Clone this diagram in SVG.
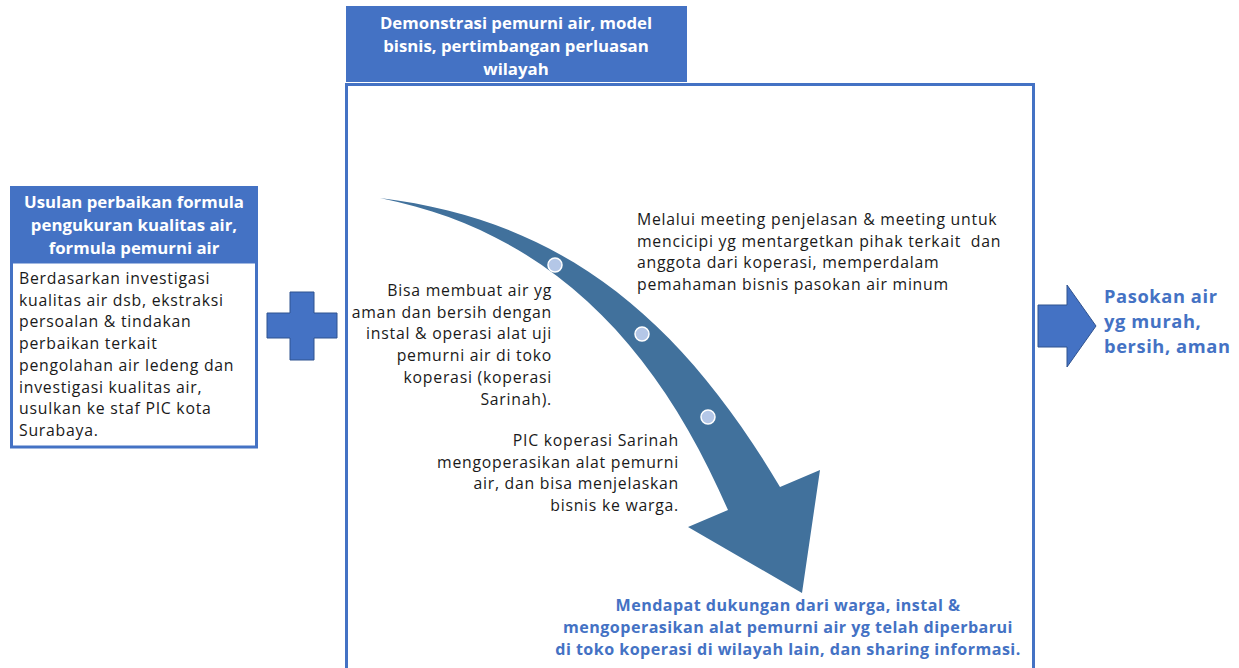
<svg xmlns="http://www.w3.org/2000/svg" width="1239" height="668" viewBox="0 0 1239 668">
<style>
.hdr{fill:#4472C4;}
.box{fill:#FFFFFF;stroke:#4472C4;stroke-width:3;}
.wb{font-family:"Open Sans","Noto Sans",sans-serif;font-weight:bold;font-size:16.8px;fill:#FFFFFF;text-anchor:middle;}
.bd{font-family:"Open Sans","Noto Sans",sans-serif;font-size:15.8px;letter-spacing:0.75px;fill:#1A1A1A;}
.bl{font-family:"Open Sans","Noto Sans",sans-serif;font-weight:bold;fill:#4472C4;}
.shape{fill:#4472C4;stroke:#2F528F;stroke-width:1;}
.dot{fill:#B4C7E7;stroke:#FFFFFF;stroke-width:1.5;}
</style>
<rect width="1239" height="668" fill="#FFFFFF"/>

<g id="main-box">
  <rect class="box" x="346.5" y="84.5" width="687" height="620"/>
</g>

<g id="main-header">
  <rect class="hdr" x="346" y="6" width="341" height="76"/>
  <text class="wb" x="516" y="29">Demonstrasi pemurni air, model</text>
  <text class="wb" x="516" y="52">bisnis, pertimbangan perluasan</text>
  <text class="wb" x="516" y="75">wilayah</text>
</g>

<g id="left-node">
  <rect class="hdr" x="10" y="186" width="248" height="76"/>
  <text class="wb" x="134" y="208">Usulan perbaikan formula</text>
  <text class="wb" x="134" y="231">pengukuran kualitas air,</text>
  <text class="wb" x="134" y="254">formula pemurni air</text>
  <rect class="box" x="11.5" y="262" width="245" height="185"/>
  <text class="bd" x="19" y="284">Berdasarkan investigasi</text>
  <text class="bd" x="19" y="305.7">kualitas air dsb, ekstraksi</text>
  <text class="bd" x="19" y="327.4">persoalan &amp; tindakan</text>
  <text class="bd" x="19" y="349.1">perbaikan terkait</text>
  <text class="bd" x="19" y="370.8">pengolahan air ledeng dan</text>
  <text class="bd" x="19" y="392.5">investigasi kualitas air,</text>
  <text class="bd" x="19" y="414.2">usulkan ke staf PIC kota</text>
  <text class="bd" x="19" y="435.9">Surabaya.</text>
</g>

<g id="plus">
  <path class="shape" d="M290,292 H314 V313 H337 V338 H314 V360 H290 V338 H267 V313 H290 Z"/>
</g>

<g id="curved-arrow">
  <path fill="#41719C" d="M380,198 C560,220 678,315 780,487 L820,470 L802,593 L688,527 L728,510 C656,344 550,232 380,198 Z"/>
  <circle class="dot" cx="555" cy="265" r="7"/>
  <circle class="dot" cx="642" cy="334" r="7"/>
  <circle class="dot" cx="708" cy="417" r="7"/>
</g>

<g id="step-texts">
  <text class="bd" x="637" y="225">Melalui meeting penjelasan &amp; meeting untuk</text>
  <text class="bd" x="637" y="246.7" xml:space="preserve">mencicipi yg mentargetkan pihak terkait  dan</text>
  <text class="bd" x="637" y="268.4">anggota dari koperasi, memperdalam</text>
  <text class="bd" x="637" y="290.1">pemahaman bisnis pasokan air minum</text>

  <g text-anchor="end">
    <text class="bd" x="552" y="296">Bisa membuat air yg</text>
    <text class="bd" x="552" y="317.7">aman dan bersih dengan</text>
    <text class="bd" x="552" y="339.4">instal &amp; operasi alat uji</text>
    <text class="bd" x="552" y="361.1">pemurni air di toko</text>
    <text class="bd" x="552" y="382.8">koperasi (koperasi</text>
    <text class="bd" x="552" y="404.5">Sarinah).</text>

    <text class="bd" x="679" y="446">PIC koperasi Sarinah</text>
    <text class="bd" x="679" y="467.7">mengoperasikan alat pemurni</text>
    <text class="bd" x="679" y="489.4">air, dan bisa menjelaskan</text>
    <text class="bd" x="679" y="511.1">bisnis ke warga.</text>
  </g>
</g>

<g id="bottom-result">
  <g class="bl" font-size="16.1px" letter-spacing="0.45px" text-anchor="middle">
    <text x="788" y="611">Mendapat dukungan dari warga, instal &amp;</text>
    <text x="788" y="633">mengoperasikan alat pemurni air yg telah diperbarui</text>
    <text x="788" y="655">di toko koperasi di wilayah lain, dan sharing informasi.</text>
  </g>
</g>

<g id="output-arrow">
  <path class="shape" d="M1038,305 H1067 V285 L1096,326 L1067,367 V347 H1038 Z"/>
</g>

<g id="output-text">
  <g class="bl" font-size="18.3px" letter-spacing="0.6px">
    <text x="1104" y="303">Pasokan air</text>
    <text x="1104" y="328">yg murah,</text>
    <text x="1104" y="353">bersih, aman</text>
  </g>
</g>
</svg>
